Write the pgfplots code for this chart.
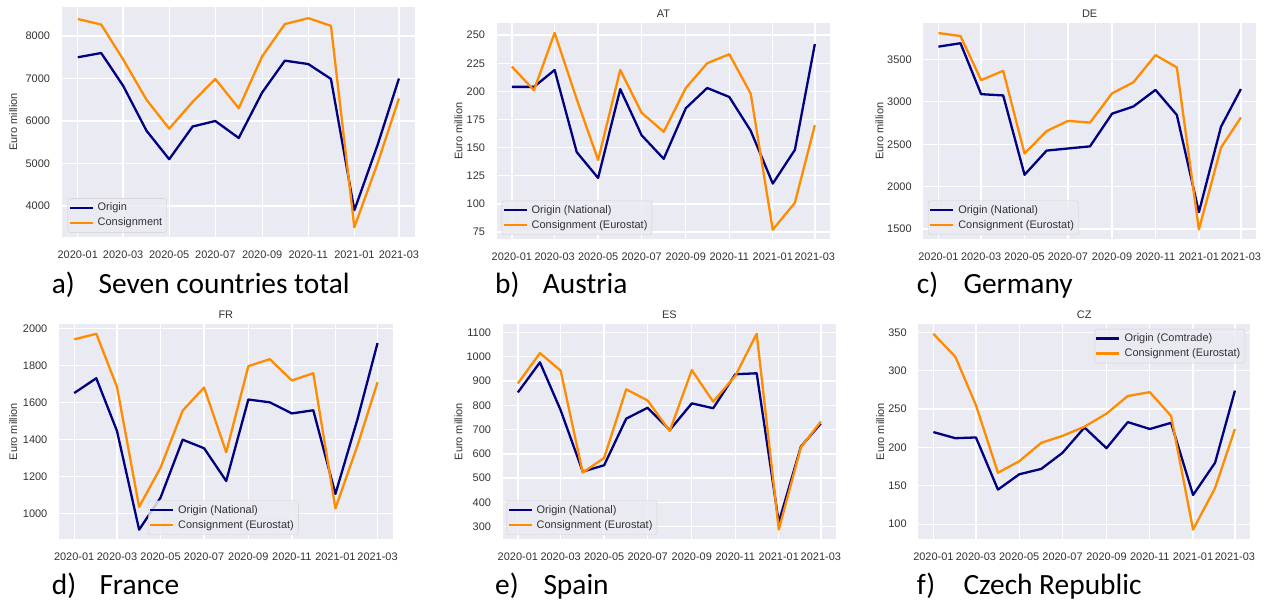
\documentclass[border=0pt]{standalone}
\usepackage{fontspec}
\setmainfont{Liberation Sans}
\newfontfamily\capfont{Carlito}
\usepackage{pgfplots}
\pgfplotsset{compat=1.18}
\usepackage{pgfplotstable}

\definecolor{bgc}{HTML}{EAEAF2}
\definecolor{tickc}{HTML}{333333}
\definecolor{navyc}{HTML}{000080}
\definecolor{orangec}{HTML}{FF8C00}

\pgfplotstableread{
x o c
0 7500 8400
31 7600 8270
60 6830 7450
91 5770 6500
121 5100 5820
152 5870 6450
182 6000 6990
213 5600 6300
244 6670 7520
274 7420 8280
305 7340 8420
335 6990 8240
366 3900 3500
397 5450 5020
425 7000 6530
}\dataA
\pgfplotstableread{
x o c
0 204 222
31 204 201
60 219 252
91 146 193
121 123 139
152 202 219
182 161 181
213 140 164
244 185 203
274 203 225
305 195 233
335 165 198
366 118 77
397 148 101
425 242 170
}\dataB
\pgfplotstableread{
x o c
0 3650 3810
31 3690 3775
60 3090 3255
91 3075 3365
121 2140 2390
152 2425 2655
182 2450 2775
213 2475 2755
244 2860 3100
274 2945 3230
305 3140 3550
335 2845 3405
366 1700 1495
397 2705 2460
425 3150 2815
}\dataC
\pgfplotstableread{
x o c
0 1650 1940
31 1730 1970
60 1445 1683
91 912 1035
121 1085 1247
152 1398 1555
182 1352 1680
213 1175 1330
244 1615 1795
274 1600 1833
305 1540 1718
335 1557 1757
366 1105 1027
397 1510 1368
425 1920 1708
}\dataD
\pgfplotstableread{
x o c
0 853 890
31 977 1015
60 780 943
91 527 523
121 553 583
152 745 866
182 790 820
213 698 694
244 808 945
274 788 815
305 928 921
335 932 1095
366 318 288
397 630 627
425 725 733
}\dataE
\pgfplotstableread{
x o c
0 220 348
31 212 318
60 213 255
91 145 167
121 165 182
152 172 206
182 193 215
213 226 227
244 199 244
274 233 267
305 224 272
335 232 241
366 138 93
397 180 147
425 274 224
}\dataF

\pgfplotsset{
  panel/.style={
    scale only axis,
    anchor=south west,
    axis background/.style={fill=bgc},
    axis line style={draw=none},
    grid=major,
    major grid style={white, line width=1.3bp},
    major tick length=0pt,
    xmin=-21.25, xmax=446.25,
    xtick={0,60,121,182,244,305,366,425},
    xticklabels={2020-01,2020-03,2020-05,2020-07,2020-09,2020-11,2021-01,2021-03},
    tick label style={font=\fontsize{11}{13}\selectfont, text=tickc},
    xticklabel style={anchor=north, inner sep=0pt, yshift=-13.5bp},
    yticklabel style={anchor=east, inner sep=0pt, xshift=-11.5bp},
    /pgf/number format/assume math mode=true,
    /pgf/number format/set thousands separator={},
    ylabel={Euro million},
    every axis title/.style={at={(axis description cs:0.5,1)}, anchor=base, yshift=5.4bp, inner sep=0pt, font=\fontsize{11}{13}\selectfont, text=tickc},
    legend cell align=left,
    legend image code/.code={\draw[##1] (0bp,0bp) -- (23bp,0bp);},
    legend style={fill=bgc, fill opacity=0.85, text opacity=1, draw=black!18, rounded corners=2.5bp,
      font=\fontsize{11}{13}\selectfont, text=tickc,
      inner xsep=0.5bp, inner ysep=2bp, row sep=0pt,
      nodes={inner xsep=4bp, inner ysep=2.25bp, text height=8bp, text depth=2.5bp}},
  },
  ylab/.style={every axis y label/.style={at={(axis description cs:#1,0.5)}, rotate=90, anchor=center, font=\fontsize{11}{13}\selectfont, text=tickc}},
  oline/.style={navyc, line width=2.3bp, line join=round},
  cline/.style={orangec, line width=2.3bp, line join=round},
}

\begin{document}
\begin{tikzpicture}
\useasboundingbox (0,0) rectangle (1271bp,601bp);

% a) Seven countries total
\begin{axis}[panel, ylab=-0.137, at={(61.7bp,364bp)}, width=353.3bp, height=230.3bp,
  ymin=3270, ymax=8690, ytick={4000,5000,6000,7000,8000},
  legend style={at={(0.017,0.019)}, anchor=south west}]
\addplot[oline] table[x=x,y=o] {\dataA};
\addlegendentry{Origin}
\addplot[cline] table[x=x,y=c] {\dataA};
\addlegendentry{Consignment}
\end{axis}

% b) Austria
\begin{axis}[panel, ylab=-0.115, at={(496.7bp,361.7bp)}, width=333.3bp, height=216bp,
  title={AT}, ymin=68.5, ymax=260.5, ytick={75,100,125,150,175,200,225,250},
  legend style={at={(0.015,0.02)}, anchor=south west}]
\addplot[oline] table[x=x,y=o] {\dataB};
\addlegendentry{Origin (National)}
\addplot[cline] table[x=x,y=c] {\dataB};
\addlegendentry{Consignment (Eurostat)}
\end{axis}

% c) Germany
\begin{axis}[panel, ylab=-0.132, at={(923.3bp,361.7bp)}, width=332.7bp, height=216bp,
  title={DE}, ymin=1380, ymax=3925, ytick={1500,2000,2500,3000,3500},
  legend style={at={(0.015,0.02)}, anchor=south west}]
\addplot[oline] table[x=x,y=o] {\dataC};
\addlegendentry{Origin (National)}
\addplot[cline] table[x=x,y=c] {\dataC};
\addlegendentry{Consignment (Eurostat)}
\end{axis}

% d) France
\begin{axis}[panel, ylab=-0.137, at={(59bp,61.7bp)}, width=333.7bp, height=215.3bp,
  title={FR}, ymin=860, ymax=2023, ytick={1000,1200,1400,1600,1800,2000},
  legend style={at={(0.267,0.02)}, anchor=south west}]
\addplot[oline] table[x=x,y=o] {\dataD};
\addlegendentry{Origin (National)}
\addplot[cline] table[x=x,y=c] {\dataD};
\addlegendentry{Consignment (Eurostat)}
\end{axis}

% e) Spain
\begin{axis}[panel, ylab=-0.133, at={(502.7bp,61.7bp)}, width=333.3bp, height=215.3bp,
  title={ES}, ymin=248, ymax=1135, ytick={300,400,500,600,700,800,900,1000,1100},
  legend style={at={(0.012,0.02)}, anchor=south west}]
\addplot[oline] table[x=x,y=o] {\dataE};
\addlegendentry{Origin (National)}
\addplot[cline] table[x=x,y=c] {\dataE};
\addlegendentry{Consignment (Eurostat)}
\end{axis}

% f) Czech Republic
\begin{axis}[panel, ylab=-0.115, at={(918.3bp,61.7bp)}, width=331.7bp, height=215.3bp,
  title={CZ}, ymin=80.3, ymax=360.8, ytick={100,150,200,250,300,350},
  legend style={at={(0.985,0.977)}, anchor=north east}]
\addplot[oline] table[x=x,y=o] {\dataF};
\addlegendentry{Origin (Comtrade)}
\addplot[cline] table[x=x,y=c] {\dataF};
\addlegendentry{Consignment (Eurostat)}
\end{axis}

% captions
\begin{scope}[every node/.style={anchor=base west, inner sep=0pt, font=\capfont\fontsize{29.5}{34}\selectfont}]
\node at (51.7bp,307bp) {a)};
\node at (98.5bp,307bp) {Seven countries total};
\node at (495bp,307bp) {b)};
\node at (542.7bp,307bp) {Austria};
\node at (916.7bp,307bp) {c)};
\node at (963.3bp,307bp) {Germany};
\node at (51.7bp,7bp) {d)};
\node at (99.3bp,7bp) {France};
\node at (495bp,7bp) {e)};
\node at (543.3bp,7bp) {Spain};
\node at (916.7bp,7bp) {f)};
\node at (963.3bp,7bp) {Czech Republic};
\end{scope}
\end{tikzpicture}
\end{document}
